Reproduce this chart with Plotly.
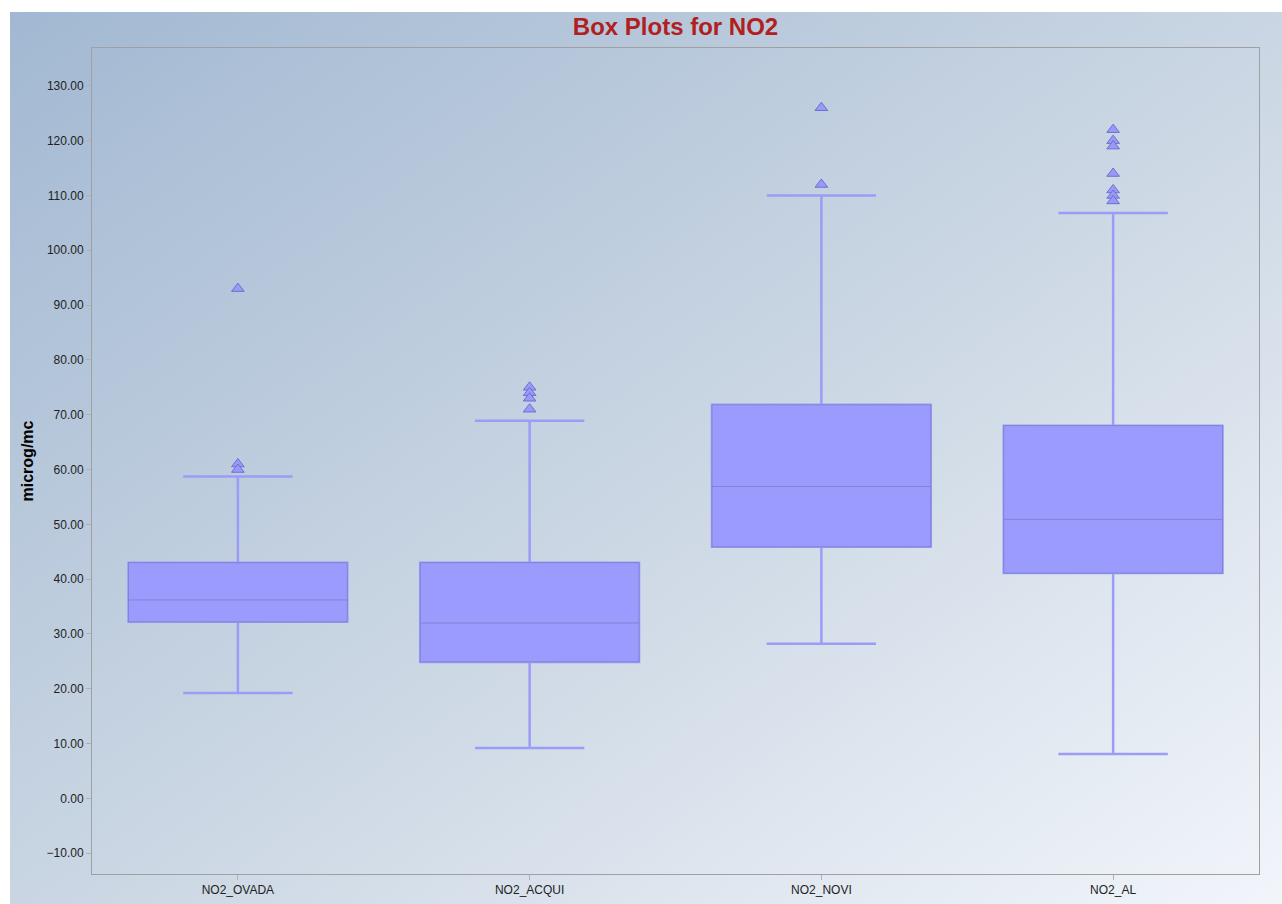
import base64
import plotly.graph_objects as go

categories = ["NO2_OVADA", "NO2_ACQUI", "NO2_NOVI", "NO2_AL"]
lower_fence = [19.2, 9.2, 28.2, 8.1]
q1 = [32.2, 24.9, 45.9, 41.1]
median = [36.2, 32.0, 56.9, 50.9]
q3 = [43.0, 43.0, 71.8, 68.0]
upper_fence = [58.7, 68.9, 110.0, 106.8]
outliers = {
    "NO2_OVADA": [93.0, 61.0, 60.0],
    "NO2_ACQUI": [75.0, 74.0, 73.0, 71.0],
    "NO2_NOVI": [126.0, 112.0],
    "NO2_AL": [122.0, 120.0, 119.0, 114.0, 111.0, 110.0, 109.0],
}
y_ticks = list(range(-10, 131, 10))

fill = "#9b9bfe"

fig = go.Figure()
# whiskers + box
fig.add_trace(go.Box(
    x=categories, q1=q1, median=median, q3=q3,
    lowerfence=lower_fence, upperfence=upper_fence,
    fillcolor=fill, line=dict(color="#9c9cf8", width=2.5),
    whiskerwidth=0.5, boxpoints=False, showlegend=False, hoverinfo="skip",
))
# darker box outline & median
fig.add_trace(go.Box(
    x=categories, q1=q1, median=median, q3=q3,
    lowerfence=q1, upperfence=q3,
    fillcolor=fill, line=dict(color="#8282d6", width=1),
    whiskerwidth=0, boxpoints=False, showlegend=False,
))
ox, oy = [], []
for c in categories:
    for v in outliers[c]:
        ox.append(c)
        oy.append(v)
fig.add_trace(go.Scatter(
    x=ox, y=oy, mode="markers", showlegend=False,
    marker=dict(symbol="triangle-up", size=11, color="#9a9af6",
                line=dict(color="#6e6ed2", width=1)),
))

svg = ('<svg xmlns="http://www.w3.org/2000/svg" width="1300" height="920" '
       'preserveAspectRatio="none">'
       '<defs><linearGradient id="g" x1="0" y1="0" x2="1" y2="1">'
       '<stop offset="0" stop-color="#a2b8d2"/>'
       '<stop offset="0.5" stop-color="#cad6e3"/>'
       '<stop offset="1" stop-color="#f4f7fc"/>'
       '</linearGradient></defs>'
       '<rect width="1300" height="920" fill="url(#g)"/></svg>')
src = "data:image/svg+xml;base64," + base64.b64encode(svg.encode()).decode()

H = 904
L, R, T, B = 92, 23, 48, 30
pw, ph = 1282 - L - R, H - T - B
fig.add_layout_image(dict(
    source=src, xref="paper", yref="paper",
    x=(10 - L) / pw, y=(H - B - 12) / ph,
    sizex=1300 / pw, sizey=920 / ph,
    xanchor="left", yanchor="top", sizing="stretch", layer="below",
))

fig.update_layout(
    width=1282, height=904,
    margin=dict(l=L, r=R, t=T, b=B),
    paper_bgcolor="white", plot_bgcolor="rgba(0,0,0,0)",
    boxmode="overlay", boxgap=0.25, boxgroupgap=0,
    font=dict(family="Liberation Sans, Arial", size=12, color="#222222"),
    title=dict(text="<b>Box Plots for NO2</b>", x=0.5, xref="paper",
               xanchor="center", y=1 - 27 / H, yanchor="middle",
               font=dict(size=24, color="#b02020")),
    xaxis=dict(showline=True, mirror=True, linecolor="#a0a0a0", linewidth=1,
               ticks="outside", ticklen=5, tickcolor="#b0b0b0",
               showgrid=False, zeroline=False, automargin=False,
               tickfont=dict(size=12, color="#222222")),
    yaxis=dict(range=[-13.8, 136.9], tickvals=y_ticks, tickformat=".2f",
               showline=True, mirror=True, linecolor="#a0a0a0", linewidth=1,
               ticks="outside", ticklen=5, tickcolor="#b0b0b0",
               showgrid=False, zeroline=False, automargin=False,
               tickfont=dict(size=12, color="#222222"),
               title=dict(text="<b>microg/mc</b>", standoff=8,
                          font=dict(size=16, color="#000000"))),
)

fig.write_html("out.html")
